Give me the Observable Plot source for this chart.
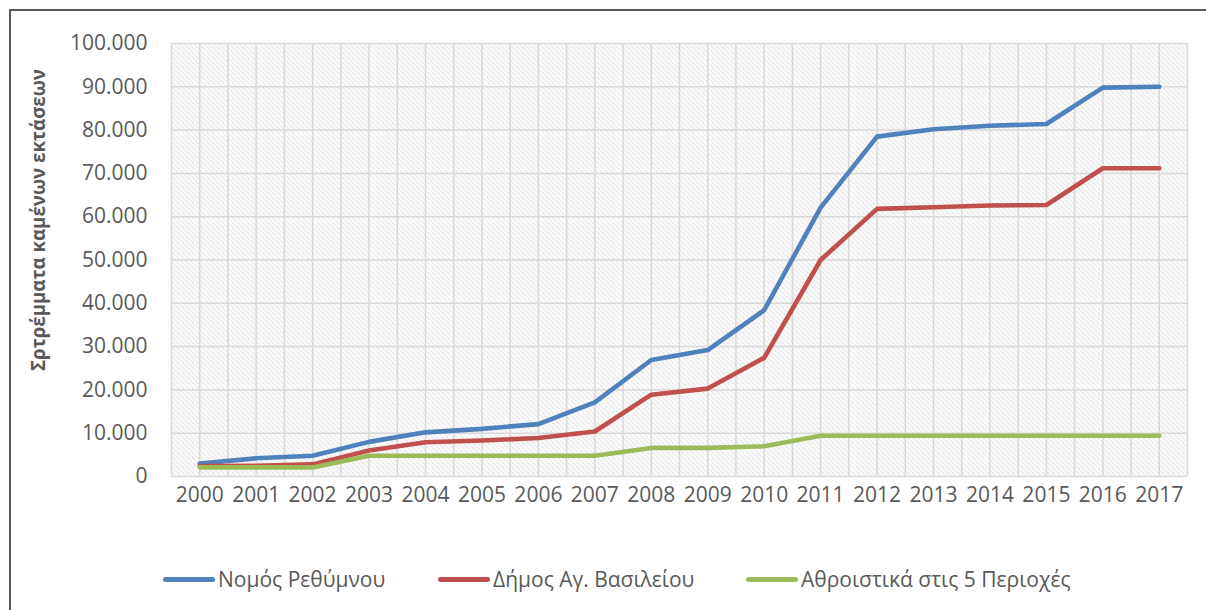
<!DOCTYPE html>
<html><head><meta charset="utf-8">
<script src="https://cdn.jsdelivr.net/npm/d3@7"></script>
<script src="https://cdn.jsdelivr.net/npm/@observablehq/plot@0.6"></script>
<style>
body{margin:0;background:#fff;font-family:"Open Sans",sans-serif;}
#wrap{position:relative;width:1206px;height:610px;overflow:hidden;}
#border{position:absolute;left:9px;top:9px;width:1300px;height:700px;border-left:2px solid #595959;border-top:2px solid #595959;}
#chart{position:absolute;left:0;top:0;}
#ytitle{position:absolute;left:37px;top:220px;transform:translate(-50%,-50%) rotate(-90deg);white-space:nowrap;font-weight:bold;font-size:18.7px;color:#595959;}
.leg{position:absolute;top:579px;transform:translateY(-50%);display:flex;align-items:center;font-size:21px;color:#595959;white-space:nowrap;}
.sw{width:52px;height:5px;border-radius:2.5px;margin-right:3px;}
</style>
</head><body>
<div id="wrap">
  <div id="border"></div>
  <div id="chart"></div>
  <div id="ytitle"></div>
  <div id="legend"></div>
</div>
<script>
const years = [2000,2001,2002,2003,2004,2005,2006,2007,2008,2009,2010,2011,2012,2013,2014,2015,2016,2017];
const seriesNames = ["Νομός Ρεθύμνου","Δήμος Αγ. Βασιλείου","Αθροιστικά στις 5 Περιοχές"];
const seriesColors = ["#4f81bd","#c0504d","#9bbb59"];
const nomos = [3000,4200,4800,8000,10200,11000,12100,17100,26900,29200,38400,62100,78500,80200,81000,81400,89800,90000];
const dimos = [2400,2500,2800,6000,7900,8300,8900,10400,18900,20300,27400,50000,61800,62200,62600,62700,71200,71200];
const athr  = [2100,2100,2100,4800,4800,4800,4800,4800,6600,6600,7000,9400,9400,9400,9400,9400,9400,9400];
const yTicks = [0,10000,20000,30000,40000,50000,60000,70000,80000,90000,100000];
const yTitle = "Σρτρέμματα καμένων εκτάσεων";

const seriesValues = [nomos, dimos, athr];
const rows = [];
seriesNames.forEach((name, i) => years.forEach((yr, j) => rows.push({series: name, year: yr, value: seriesValues[i][j]})));

const fmt = d => d === 0 ? "0" : d3.format(",")(d).replace(/,/g, ".");
const vgrid = d3.range(years[0] - 0.5, years[years.length - 1] + 0.51, 0.5);

const svg = Plot.plot({
  width: 1206, height: 520,
  marginLeft: 171, marginRight: 19, marginTop: 43, marginBottom: 44,
  style: {fontFamily: "'Open Sans', sans-serif", fontSize: "21px", color: "#595959", background: "transparent", overflow: "visible"},
  x: {domain: [years[0] - 0.5, years[years.length - 1] + 0.5], ticks: years, tickFormat: d => String(d), tickSize: 0, tickPadding: 11, label: null},
  y: {domain: [0, 100000], ticks: yTicks, tickFormat: fmt, tickSize: 0, tickPadding: 24, label: null},
  color: {domain: seriesNames, range: seriesColors},
  marks: [
    Plot.frame({fill: "url(#hatch)", stroke: null}),
    Plot.ruleX(vgrid, {stroke: "#d9d9d9", strokeWidth: 1.5}),
    Plot.ruleY(yTicks, {stroke: "#d9d9d9", strokeWidth: 1.5}),
    Plot.line(rows, {x: "year", y: "value", z: "series", stroke: "series", strokeWidth: 4.6, strokeLinejoin: "round", strokeLinecap: "round"})
  ]
});
const defs = d3.select(svg).insert("defs", ":first-child");
const pat = defs.append("pattern").attr("id", "hatch").attr("patternUnits", "userSpaceOnUse").attr("width", 5).attr("height", 5);
pat.append("rect").attr("width", 5).attr("height", 5).attr("fill", "#ffffff");
pat.append("path").attr("d", "M-1,-1L6,6M-1,4L1,6M4,-1L6,1").attr("stroke", "#cdcdcd").attr("stroke-width", 1.1).attr("stroke-dasharray", "1.4,0.7");
document.getElementById("chart").appendChild(svg);

document.getElementById("ytitle").textContent = yTitle;

const legendX = [163, 438, 746];
const legend = document.getElementById("legend");
seriesNames.forEach((name, i) => {
  const item = document.createElement("div");
  item.className = "leg";
  item.style.left = legendX[i] + "px";
  const sw = document.createElement("div");
  sw.className = "sw";
  sw.style.background = seriesColors[i];
  const t = document.createElement("span");
  t.textContent = name;
  item.appendChild(sw); item.appendChild(t);
  legend.appendChild(item);
});
</script>
</body></html>
